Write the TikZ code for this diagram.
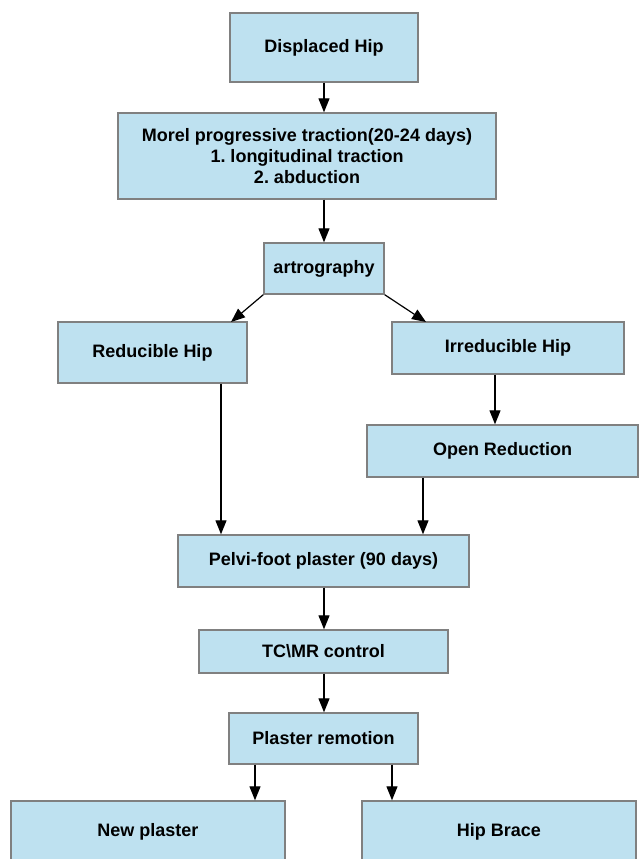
\documentclass[tikz,border=0pt]{standalone}
\usepackage{fontspec}
\setmainfont{Liberation Sans}
\usetikzlibrary{arrows.meta}
\frenchspacing
\definecolor{boxfill}{RGB}{190,225,240}
\definecolor{boxline}{RGB}{128,128,128}
\tikzset{
  flowbox/.style={draw=boxline, fill=boxfill, line width=1.4bp, inner sep=0pt,
    align=center, font=\fontsize{18bp}{20.7bp}\selectfont\bfseries},
  flowarrow/.style={line width=1.2bp, -{Triangle[length=14bp,width=11bp]}}
}
\begin{document}
\begin{tikzpicture}[x=1bp,y=-1bp]
\useasboundingbox (0,0) rectangle (639,859);
\clip (0,0) rectangle (639,859);
\fill[white] (0,0) rectangle (639,859);
\node[flowbox, minimum width=188bp, minimum height=69bp] (disp) at (324,47.5) {Displaced Hip};
\node[flowbox, minimum width=378bp, minimum height=86bp] (morel) at (307,156) {Morel progressive traction(20-24 days)\\1. longitudinal traction\\2. abduction};
\node[flowbox, minimum width=120bp, minimum height=51bp] (artro) at (324,268.5) {artrography};
\node[flowbox, minimum width=189bp, minimum height=61bp] (red) at (152.5,352.5) {Reducible Hip};
\node[flowbox, minimum width=232bp, minimum height=52bp] (irred) at (508,348) {Irreducible Hip};
\node[flowbox, minimum width=271bp, minimum height=52bp] (open) at (502.5,451) {Open Reduction};
\node[flowbox, minimum width=291bp, minimum height=52bp] (pelvi) at (323.5,561) {Pelvi-foot plaster (90 days)};
\node[flowbox, minimum width=249bp, minimum height=43bp] (tc) at (323.5,651.5) {TC\textbackslash MR control};
\node[flowbox, minimum width=189bp, minimum height=51bp] (plaster) at (323.5,738.5) {Plaster remotion};
\node[flowbox, minimum width=274bp, minimum height=62bp] (newp) at (148,832) {New plaster};
\node[flowbox, minimum width=274bp, minimum height=62bp] (brace) at (499,832) {Hip Brace};

\coordinate (redtip) at (231,322);
\coordinate (irredtip) at (426,322);

\draw[flowarrow] (disp.south -| artro.north) -- (morel.north -| artro.north);
\draw[flowarrow] (morel.south -| artro.north) -- (artro.north);
\draw[flowarrow] (artro.south west) -- (redtip);
\draw[flowarrow] (artro.south east) -- (irredtip);
\draw[flowarrow] (red.south -| 221,0) -- (pelvi.north -| 221,0);
\draw[flowarrow] (irred.south -| 495,0) -- (open.north -| 495,0);
\draw[flowarrow] (open.south -| 423,0) -- (pelvi.north -| 423,0);
\draw[flowarrow] (pelvi.south -| 324,0) -- (tc.north -| 324,0);
\draw[flowarrow] (tc.south -| 324,0) -- (plaster.north -| 324,0);
\draw[flowarrow] (plaster.south -| 255,0) -- (newp.north -| 255,0);
\draw[flowarrow] (plaster.south -| 392,0) -- (brace.north -| 392,0);
\end{tikzpicture}
\end{document}
